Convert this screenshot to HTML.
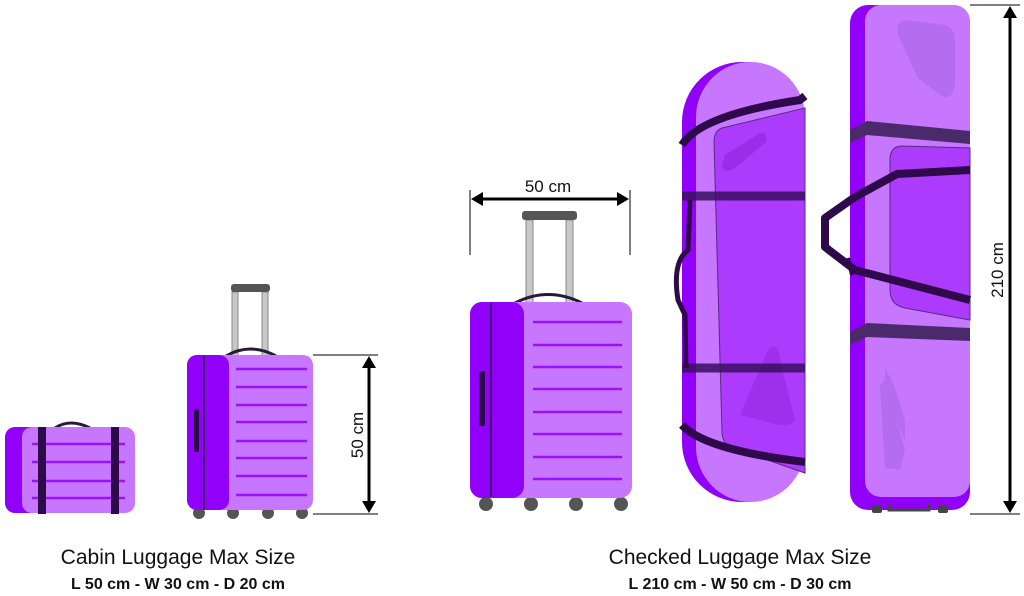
<!DOCTYPE html>
<html><head><meta charset="utf-8"><style>
html,body{margin:0;padding:0;background:#fff;width:1024px;height:596px;overflow:hidden}
svg{display:block}
text{font-family:"Liberation Sans",sans-serif;fill:#111}
</style></head><body>
<svg width="1024" height="596" viewBox="0 0 1024 596" xmlns="http://www.w3.org/2000/svg">
<!-- small case -->
<path d="M55,428 Q70,418 90,428" stroke="#2a1a3a" stroke-width="3" fill="none"/>
<rect x="5" y="427" width="125" height="86" rx="10" fill="#9100f8"/>
<rect x="22" y="427" width="113" height="86" rx="10" fill="#c777ff"/>
<g stroke="#9a10ff" stroke-width="2.5">
<line x1="32" y1="444" x2="125" y2="444"/><line x1="32" y1="462" x2="125" y2="462"/><line x1="32" y1="481" x2="125" y2="481"/><line x1="32" y1="498" x2="125" y2="498"/></g>
<rect x="38" y="427" width="8" height="87" fill="#2e0a4a"/>
<rect x="111" y="427" width="8" height="87" fill="#2e0a4a"/>
<!-- medium case -->
<rect x="232" y="292" width="6" height="64" fill="#c8c8c8" stroke="#888" stroke-width="1"/>
<rect x="262" y="292" width="6" height="64" fill="#c8c8c8" stroke="#888" stroke-width="1"/>
<rect x="231" y="284" width="39" height="8" rx="3" fill="#555"/>
<path d="M226,356 Q250,342 276,356" stroke="#2a1a3a" stroke-width="3" fill="none"/>
<g fill="#555"><circle cx="199" cy="513" r="6"/><circle cx="233" cy="513" r="6"/><circle cx="268" cy="513" r="6"/><circle cx="302" cy="513" r="6"/></g>
<rect x="187" y="355" width="126" height="155" rx="10" fill="#c777ff"/>
<rect x="187" y="355" width="42" height="155" rx="10" fill="#9100f8"/>
<line x1="204" y1="356" x2="204" y2="509" stroke="#2a1a3a" stroke-width="1.5"/>
<rect x="194" y="409" width="5" height="43" rx="2" fill="#2e0a4a"/>
<g stroke="#9a10ff" stroke-width="2.5">
<line x1="236" y1="369" x2="307" y2="369"/><line x1="236" y1="387" x2="307" y2="387"/><line x1="236" y1="405" x2="307" y2="405"/><line x1="236" y1="422" x2="307" y2="422"/><line x1="236" y1="441" x2="307" y2="441"/><line x1="236" y1="458" x2="307" y2="458"/><line x1="236" y1="476" x2="307" y2="476"/><line x1="236" y1="495" x2="307" y2="495"/></g>
<line x1="313" y1="355" x2="378" y2="355" stroke="#000" stroke-width="1"/>
<line x1="313" y1="514" x2="378" y2="514" stroke="#000" stroke-width="1"/>
<line x1="369" y1="365" x2="369" y2="504" stroke="#000" stroke-width="3"/>
<path d="M369,356 L362,368 L376,368 Z M369,513 L362,501 L376,501 Z" fill="#000"/>
<text font-size="17" transform="translate(363,435) rotate(-90)" text-anchor="middle">50 cm</text>
<!-- large case -->
<line x1="470" y1="190" x2="470" y2="255" stroke="#000" stroke-width="1"/>
<line x1="630" y1="190" x2="630" y2="255" stroke="#000" stroke-width="1"/>
<line x1="480" y1="199" x2="620" y2="199" stroke="#000" stroke-width="3"/>
<path d="M471,199 L483,192 L483,206 Z M629,199 L617,192 L617,206 Z" fill="#000"/>
<text x="548" y="192" font-size="17" text-anchor="middle">50 cm</text>
<rect x="526" y="220" width="7" height="83" fill="#c8c8c8" stroke="#888" stroke-width="1"/>
<rect x="566" y="220" width="7" height="83" fill="#c8c8c8" stroke="#888" stroke-width="1"/>
<rect x="522" y="211" width="55" height="9" rx="3" fill="#555"/>
<path d="M515,303 Q548,286 582,303" stroke="#2a1a3a" stroke-width="3" fill="none"/>
<g fill="#555"><circle cx="486" cy="504" r="7"/><circle cx="531" cy="504" r="7"/><circle cx="576" cy="504" r="7"/><circle cx="621" cy="504" r="7"/></g>
<rect x="470" y="302" width="162" height="196" rx="12" fill="#c777ff"/>
<rect x="470" y="302" width="54" height="196" rx="12" fill="#9100f8"/>
<line x1="491" y1="303" x2="491" y2="497" stroke="#2a1a3a" stroke-width="1.5"/>
<rect x="479" y="371" width="6" height="55" rx="2" fill="#2e0a4a"/>
<g stroke="#9a10ff" stroke-width="2.5">
<line x1="533" y1="322" x2="622" y2="322"/><line x1="533" y1="345" x2="622" y2="345"/><line x1="533" y1="367" x2="622" y2="367"/><line x1="533" y1="389" x2="622" y2="389"/><line x1="533" y1="412" x2="622" y2="412"/><line x1="533" y1="434" x2="622" y2="434"/><line x1="533" y1="457" x2="622" y2="457"/><line x1="533" y1="479" x2="622" y2="479"/></g>
<!-- bag 1 -->
<rect x="682" y="62" width="123" height="440" rx="60" fill="#9100f8"/>
<rect x="696" y="62" width="109" height="440" rx="55" fill="#c777ff"/>
<path d="M722,128 L805,108 L805,473 L733,448 Q722,444 722,432 L714,142 Q714,131 722,128 Z" fill="#ad3bfe" stroke="#5a2a80" stroke-width="1"/>
<path d="M725,155 L760,133 Q768,132 766,142 L735,168 Q722,175 722,165 Z" fill="#9a2ee8"/>
<path d="M740,415 L768,350 Q778,340 780,360 L795,420 Q790,430 760,420 Z" fill="#9a2ee8" opacity="0.8"/>
<path d="M682,145 Q700,115 800,100 L805,96" stroke="#2e0a4a" stroke-width="8" fill="none"/>
<path d="M682,196 L805,196" stroke="#3a1060" stroke-width="9" opacity="0.85"/>
<path d="M682,368 L805,368" stroke="#3a1060" stroke-width="9" opacity="0.85"/>
<path d="M682,425 Q705,450 805,462" stroke="#2e0a4a" stroke-width="8" fill="none"/>
<path d="M690,200 L688,250 Q672,262 678,300 L685,315 L686,368" stroke="#2e0a4a" stroke-width="5" fill="none"/>
<!-- bag 2 -->
<rect x="850" y="5" width="120" height="505" rx="18" fill="#9100f8"/>
<rect x="865" y="5" width="105" height="492" rx="16" fill="#c777ff"/>
<path d="M905,20 L945,25 Q955,28 955,40 L955,85 Q952,102 940,95 L918,78 L898,35 Q896,20 905,20 Z" fill="#b56cee"/>
<path d="M880,385 L885,380 L905,450 L900,470 L885,468 Z" fill="#b56cee"/>
<path d="M885,370 Q892,375 905,420 L905,440 Q895,420 885,380 Z" fill="#b56cee"/>
<path d="M902,146 L970,148 L970,320 L905,308 Q890,305 890,290 L890,160 Q890,146 902,146 Z" fill="#ad3bfe" stroke="#5a2a80" stroke-width="1"/>
<path d="M850,130 L867,121 L970,131 L970,144 L867,135 L850,143 Z" fill="#4a2a6a"/>
<path d="M850,332 L867,323 L970,328 L970,341 L867,337 L850,345 Z" fill="#4a2a6a"/>
<path d="M970,170 L897,174 L855,197 L825,218 L825,247 L855,270 L970,300" stroke="#2e0a4a" stroke-width="8" fill="none" stroke-linejoin="round"/>
<path d="M848,258 L852,275" stroke="#2e0a4a" stroke-width="4"/>
<g fill="#444"><rect x="872" y="505" width="10" height="8" rx="2"/><rect x="938" y="505" width="10" height="8" rx="2"/><path d="M889,504 L889,510 L929,510 L929,504" stroke="#444" stroke-width="3" fill="none"/></g>
<line x1="970" y1="5" x2="1020" y2="5" stroke="#000" stroke-width="1"/>
<line x1="970" y1="514" x2="1020" y2="514" stroke="#000" stroke-width="1"/>
<line x1="1010" y1="15" x2="1010" y2="504" stroke="#000" stroke-width="3"/>
<path d="M1010,6 L1003,18 L1017,18 Z M1010,513 L1003,501 L1017,501 Z" fill="#000"/>
<text font-size="17" transform="translate(1003,270) rotate(-90)" text-anchor="middle">210 cm</text>
<!-- captions -->
<text x="178" y="564" font-size="21" text-anchor="middle">Cabin Luggage Max Size</text>
<text x="178" y="589" font-size="16" text-anchor="middle" font-weight="bold">L 50 cm - W 30 cm - D 20 cm</text>
<text x="740" y="564" font-size="21" text-anchor="middle">Checked Luggage Max Size</text>
<text x="740" y="589" font-size="16" text-anchor="middle" font-weight="bold">L 210 cm - W 50 cm - D 30 cm</text>
</svg>
</body></html>
